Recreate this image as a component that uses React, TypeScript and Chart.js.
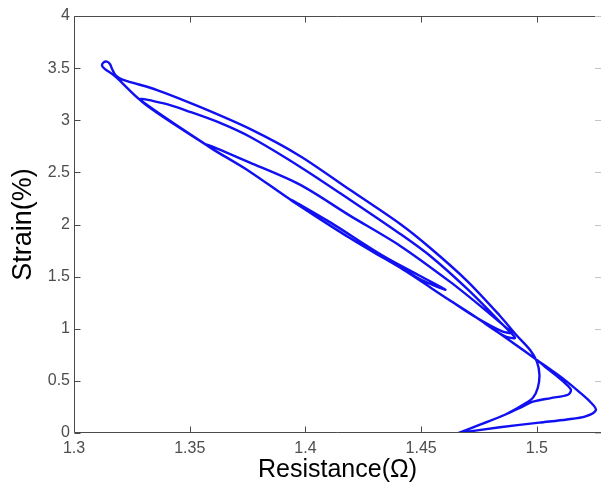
import React, { useEffect, useRef } from "react";
import { Chart, registerables } from "chart.js";

Chart.register(...registerables);

// ---- axes ----
const X_MIN = 1.3;
const X_MAX = 1.5277;
const Y_MIN = 0;
const Y_MAX = 4;
const X_TICKS = [1.3, 1.35, 1.4, 1.45, 1.5];
const Y_TICKS = [0, 0.5, 1, 1.5, 2, 2.5, 3, 3.5, 4];
const X_TITLE = "Resistance(Ω)";
const Y_TITLE = "Strain(%)";

// ---- curve, traced in order (resistance Ω, strain %) ----
const LOAD1_RES = [1.466, 1.484, 1.501, 1.513, 1.521, 1.5255, 1.523, 1.518, 1.512, 1.506, 1.5, 1.4884, 1.474, 1.462, 1.441, 1.419, 1.393, 1.376, 1.357, 1.3285, 1.319];
const LOAD1_STRAIN = [0.0, 0.055, 0.1, 0.13, 0.16, 0.22, 0.3, 0.4, 0.51, 0.607, 0.7, 0.885, 1.105, 1.278, 1.585, 1.872, 2.246, 2.507, 2.766, 3.196, 3.397];

const TOP_RES = [1.3164, 1.3134, 1.3121, 1.3128, 1.3142, 1.3155, 1.3165, 1.318, 1.321];
const TOP_STRAIN = [3.445, 3.49, 3.525, 3.555, 3.562, 3.54, 3.49, 3.43, 3.39];

const UNLOAD_A_RES = [1.3359, 1.3544, 1.376, 1.3976, 1.4192, 1.4408, 1.4538, 1.4698, 1.484, 1.4914, 1.497, 1.5, 1.5011, 1.5004, 1.4983, 1.494, 1.4862, 1.4754, 1.466];
const UNLOAD_A_STRAIN = [3.29, 3.128, 2.917, 2.658, 2.333, 2.007, 1.777, 1.46, 1.125, 0.933, 0.798, 0.684, 0.559, 0.434, 0.338, 0.27, 0.175, 0.08, 0.0];

const RELOAD_A_RES = [1.4754, 1.4862, 1.494, 1.4983, 1.506, 1.5134, 1.5147, 1.512, 1.5078, 1.5035, 1.5, 1.4884, 1.474, 1.462, 1.441, 1.419, 1.393, 1.376, 1.357, 1.3285];
const RELOAD_A_STRAIN = [0.08, 0.175, 0.255, 0.3, 0.335, 0.367, 0.415, 0.48, 0.56, 0.636, 0.7, 0.885, 1.105, 1.278, 1.585, 1.872, 2.246, 2.507, 2.766, 3.196];

const UNLOAD_B_RES = [1.3393, 1.3501, 1.3631, 1.376, 1.3976, 1.4192, 1.4408, 1.4538, 1.4698, 1.484, 1.4905, 1.486];
const UNLOAD_B_STRAIN = [3.159, 3.081, 2.975, 2.842, 2.555, 2.238, 1.912, 1.7, 1.384, 1.067, 0.914, 0.93];

const RELOAD_B_RES = [1.474, 1.462, 1.441, 1.419, 1.393, 1.376, 1.357];
const RELOAD_B_STRAIN = [1.105, 1.278, 1.585, 1.872, 2.246, 2.507, 2.766];

const UNLOAD_C_RES = [1.376, 1.3976, 1.4192, 1.4408, 1.4624, 1.4754, 1.4862, 1.4892, 1.485];
const UNLOAD_C_STRAIN = [2.593, 2.382, 2.085, 1.797, 1.452, 1.222, 1.02, 0.962, 0.975];

const RELOAD_C_RES = [1.474, 1.462, 1.441, 1.419, 1.393];
const RELOAD_C_STRAIN = [1.105, 1.278, 1.585, 1.872, 2.246];

const UNLOAD_E_RES = [1.41, 1.4335, 1.448, 1.4605, 1.45, 1.44, 1.432, 1.419, 1.393];
const UNLOAD_E_STRAIN = [2.03, 1.7, 1.525, 1.375, 1.47, 1.6, 1.7, 1.872, 2.246];

const SEGMENTS: [number[], number[]][] = [
  [LOAD1_RES, LOAD1_STRAIN],
  [TOP_RES, TOP_STRAIN],
  [UNLOAD_A_RES, UNLOAD_A_STRAIN],
  [RELOAD_A_RES, RELOAD_A_STRAIN],
  [UNLOAD_B_RES, UNLOAD_B_STRAIN],
  [RELOAD_B_RES, RELOAD_B_STRAIN],
  [UNLOAD_C_RES, UNLOAD_C_STRAIN],
  [RELOAD_C_RES, RELOAD_C_STRAIN],
  [UNLOAD_E_RES, UNLOAD_E_STRAIN],
];

const FONT = "'Liberation Sans', Arial, Helvetica, sans-serif";
const LINE_COLOR = "#1010f0";
const AXIS_COLOR = "#4a4a4a";
const TICK_TEXT = "#4d4d4d";

export default function App() {
  const ref = useRef<HTMLCanvasElement>(null);

  useEffect(() => {
    if (!ref.current) return;
    const points: { x: number; y: number }[] = [];
    for (const [r, s] of SEGMENTS) {
      for (let i = 0; i < r.length; i++) points.push({ x: r[i], y: s[i] });
    }

    const frame = {
      id: "frame",
      afterDraw(chart: any) {
        const { ctx, chartArea, scales } = chart;
        const { left, right, top, bottom } = chartArea;
        const L = Math.round(left) + 0.5;
        const T = Math.round(top) + 0.5;
        const B = Math.round(bottom) - 0.5;
        ctx.save();
        ctx.strokeStyle = AXIS_COLOR;
        ctx.lineWidth = 1;
        ctx.beginPath();
        ctx.moveTo(right, T);
        ctx.lineTo(L, T);
        ctx.lineTo(L, B);
        ctx.lineTo(right, B);
        for (const v of X_TICKS) {
          const px = Math.round(scales.x.getPixelForValue(v)) + 0.5;
          ctx.moveTo(px, B);
          ctx.lineTo(px, B - 6);
          ctx.moveTo(px, T);
          ctx.lineTo(px, T + 6);
        }
        for (const v of Y_TICKS) {
          const py = Math.round(scales.y.getPixelForValue(v)) + 0.5;
          ctx.moveTo(L, py);
          ctx.lineTo(L + 6, py);
        }
        ctx.stroke();
        ctx.strokeStyle = "#c4c4c4";
        ctx.beginPath();
        for (const v of Y_TICKS) {
          const py = Math.round(scales.y.getPixelForValue(v)) + 0.5;
          ctx.moveTo(right, py);
          ctx.lineTo(right - 6, py);
        }
        ctx.stroke();
        ctx.restore();
      },
    };

    const chart = new Chart(ref.current, {
      type: "scatter",
      data: {
        datasets: [
          {
            data: points,
            showLine: true,
            borderColor: LINE_COLOR,
            backgroundColor: LINE_COLOR,
            borderWidth: 2.4,
            pointRadius: 0,
            tension: 0.3,
            fill: false,
          } as any,
        ],
      },
      options: {
        animation: false,
        responsive: false,
        devicePixelRatio: 1,
        layout: { padding: { top: 16, left: 0, right: 0, bottom: 0 } },
        plugins: { legend: { display: false }, tooltip: { enabled: false } },
        scales: {
          x: {
            type: "linear",
            min: X_MIN,
            max: X_MAX,
            afterBuildTicks: (s: any) => {
              s.ticks = X_TICKS.map((value) => ({ value }));
            },
            afterFit: (s: any) => {
              s.height = 53;
            },
            grid: { display: false, drawTicks: false },
            border: { display: false },
            ticks: {
              padding: 6,
              autoSkip: false,
              maxRotation: 0,
              color: TICK_TEXT,
              font: { family: FONT, size: 16 },
              callback: (v: any) => String(v),
            },
            title: {
              display: true,
              text: X_TITLE,
              color: "#000",
              font: { family: FONT, size: 25 },
              padding: { top: 0, bottom: 1 },
            },
          },
          y: {
            type: "linear",
            min: Y_MIN,
            max: Y_MAX,
            afterBuildTicks: (s: any) => {
              s.ticks = Y_TICKS.map((value) => ({ value }));
            },
            afterFit: (s: any) => {
              s.width = 74;
            },
            grid: { display: false, drawTicks: false },
            border: { display: false },
            ticks: {
              padding: 4,
              autoSkip: false,
              color: TICK_TEXT,
              font: { family: FONT, size: 16 },
              callback: (v: any) => String(v),
            },
            title: {
              display: true,
              text: Y_TITLE,
              color: "#000",
              font: { family: FONT, size: 27 },
              padding: { top: 7, bottom: 0 },
            },
          },
        },
      } as any,
      plugins: [frame],
    });
    return () => chart.destroy();
  }, []);

  return (
    <div
      style={{
        position: "fixed",
        left: 0,
        top: 0,
        width: 601,
        height: 486,
        overflow: "hidden",
        background: "#fff",
      }}
    >
      <canvas ref={ref} width={601} height={486} style={{ display: "block" }} />
    </div>
  );
}
